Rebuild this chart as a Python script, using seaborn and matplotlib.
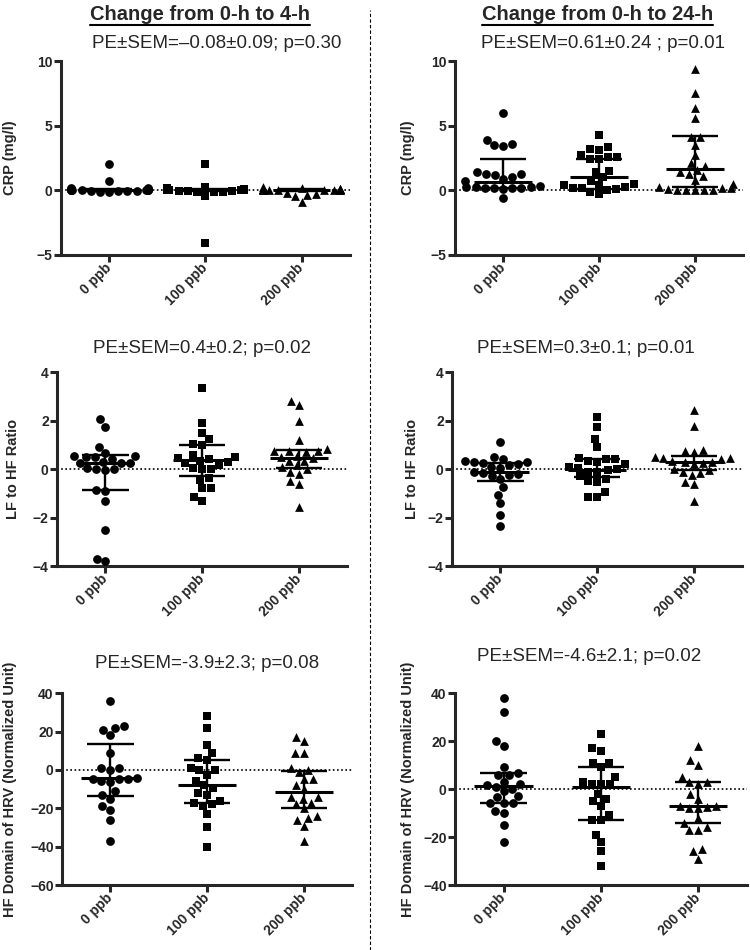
import matplotlib
matplotlib.use('Agg')
import matplotlib.pyplot as plt
import numpy as np
import pandas as pd
import seaborn as sns
from matplotlib.lines import Line2D

groups = ['0 ppb', '100 ppb', '200 ppb']
markers = ['o', 's', '^']

# CRP (mg/l), change 0-h to 4-h
crp_4h_0 = [2.05, 0.75, 0.15, 0.1, 0.1, 0.05, 0.05, 0.0, 0.0, 0.0, 0.0, -0.05,
            -0.05, -0.05, -0.1, -0.1, 0.0, 0.05, 0.2, 0.1, -0.02, 0.02]
crp_4h_100 = [2.05, -4.05, -0.4, 0.3, 0.15, 0.1, 0.1, 0.05, 0.05, 0.0, 0.0,
              0.0, 0.0, -0.05, -0.05, -0.1, -0.1, -0.15, 0.0, 0.05, 0.02, -0.02]
crp_4h_200 = [0.25, 0.2, 0.1, 0.1, 0.1, 0.1, 0.1, 0.05, 0.05, 0.0, 0.0, 0.05,
              -0.2, -0.3, -0.35, -0.4, -0.9, 0.1, 0.05, 0.0, 0.1, 0.05]
crp_4h_med = [0.02, 0.0, 0.05]
crp_4h_q1 = [-0.02, -0.05, -0.05]
crp_4h_q3 = [0.1, 0.1, 0.1]

# CRP (mg/l), change 0-h to 24-h
crp_24h_0 = [6.0, 3.9, 3.6, 3.5, 3.4, 1.45, 1.3, 1.25, 1.2, 1.05, 0.9, 0.7,
             0.35, 0.3, 0.25, 0.2, 0.2, 0.15, 0.1, 0.15, 0.25, -0.6]
crp_24h_100 = [4.25, 3.35, 3.2, 3.15, 2.7, 2.6, 2.45, 2.4, 2.6, 1.5, 1.4, 1.0,
               0.7, 0.5, 0.4, 0.3, 0.2, 0.1, 0.0, -0.1, -0.3, 0.4, 0.2]
crp_24h_200 = [9.4, 7.5, 6.4, 5.6, 4.1, 4.1, 3.5, 2.7, 2.1, 1.9, 1.6, 1.4, 1.3,
               1.1, 0.8, 0.5, 0.3, 0.2, 0.1, 0.0, 0.0, 0.0, 0.0, 0.0, 0.2]
crp_24h_med = [0.68, 1.0, 1.64]
crp_24h_q1 = [0.2, 0.13, 0.3]
crp_24h_q3 = [2.4, 2.4, 4.2]

# LF to HF ratio, change 0-h to 4-h
lf_4h_0 = [2.05, 1.75, 0.9, 0.65, 0.55, 0.55, 0.5, 0.5, 0.4, 0.3, 0.25, 0.25,
           0.25, 0.05, 0.0, 0.0, -0.05, -0.85, -0.9, -1.3, -2.5, -3.7, -3.8]
lf_4h_100 = [3.35, 1.9, 1.5, 1.25, 1.05, 1.0, 0.6, 0.5, 0.45, 0.4, 0.35, 0.3,
             0.25, 0.15, 0.05, 0.0, 0.0, -0.35, -0.45, -0.8, -0.8, -1.15, -1.3]
lf_4h_200 = [2.8, 2.65, 2.0, 1.2, 0.85, 0.75, 0.75, 0.75, 0.7, 0.55, 0.5, 0.45,
             0.35, 0.35, 0.15, 0.1, 0.0, -0.1, -0.2, -0.5, -0.6, -1.55]
lf_4h_med = [0.27, 0.37, 0.46]
lf_4h_q1 = [-0.86, -0.28, 0.05]
lf_4h_q3 = [0.57, 1.0, 0.8]

# LF to HF ratio, change 0-h to 24-h
lf_24h_0 = [1.1, 0.5, 0.4, 0.35, 0.3, 0.3, 0.25, 0.2, 0.15, 0.1, 0.05, -0.1,
            -0.15, -0.2, -0.25, -0.3, -0.4, -0.75, -1.05, -1.4, -1.9, -2.35]
lf_24h_100 = [2.15, 1.75, 1.25, 0.9, 0.45, 0.4, 0.4, 0.35, 0.3, 0.2, 0.1, 0.05,
              0.0, -0.05, -0.1, -0.1, -0.3, -0.4, -0.5, -0.55, -0.95, -1.15, -1.15]
lf_24h_200 = [2.45, 1.8, 0.8, 0.75, 0.7, 0.5, 0.45, 0.45, 0.4, 0.35, 0.3, 0.3,
              0.25, 0.2, 0.0, -0.05, -0.1, -0.15, -0.25, -0.55, -0.6, -1.3]
lf_24h_med = [-0.1, -0.05, 0.3]
lf_24h_q1 = [-0.5, -0.33, -0.05]
lf_24h_q3 = [0.25, 0.41, 0.55]

# HF domain of HRV (normalized unit), change 0-h to 4-h
hf_4h_0 = [36, 23, 22, 21, 18, 9, 1, 1, 0, -4, -4.5, -5, -5, -6, -6.5, -11,
           -13, -15, -19, -21, -26, -37]
hf_4h_100 = [28, 22, 13, 9, 6, 5, 1, 0, 0, -2.5, -6, -8, -9.5, -12, -13, -16,
             -17, -18, -19, -23, -30, -40]
hf_4h_200 = [17, 15, 9, 9, 1, 0, -1, -4.5, -5, -8, -10, -14, -14, -15, -17,
             -18, -20, -24, -25, -26, -29, -37]
hf_4h_med = [-4, -8, -11.5]
hf_4h_q1 = [-13.7, -17, -19.7]
hf_4h_q3 = [13.5, 5, -0.5]

# HF domain of HRV (normalized unit), change 0-h to 24-h
hf_24h_0 = [38, 32, 20, 18, 9, 6.5, 6, 6, 3, 2, 1.5, 1, 0, -1, -3, -3.5, -6,
            -6, -6, -9, -10, -15, -22]
hf_24h_100 = [23, 17, 16, 11, 11, 9, 5, 3, 2, 2, 2, -2, -4, -5, -7, -11, -13,
              -13, -19, -22, -26, -32]
hf_24h_200 = [18, 12, 10, 5, 3, 3, 2, -2, -4, -7, -7, -8, -8, -7.5, -12, -14,
              -16, -17, -17, -25, -26, -29]
hf_24h_med = [1.1, 1, -7]
hf_24h_q1 = [-6, -13, -14]
hf_24h_q3 = [6.5, 9, 2.9]

notes = ['PE\u00b1SEM=\u20130.08\u00b10.09; p=0.30', 'PE\u00b1SEM=0.61\u00b10.24 ; p=0.01',
         'PE\u00b1SEM=0.4\u00b10.2; p=0.02', 'PE\u00b1SEM=0.3\u00b10.1; p=0.01',
         'PE\u00b1SEM=-3.9\u00b12.3; p=0.08', 'PE\u00b1SEM=-4.6\u00b12.1; p=0.02']
ylabels = ['CRP (mg/l)', 'LF to HF Ratio', 'HF Domain of HRV (Normalized Unit)']

sns.set_style('ticks')
plt.rcParams['font.family'] = ['Liberation Sans', 'DejaVu Sans']
plt.rcParams['font.weight'] = 'bold'


def draw_panel(ax, series, med, q1, q3, ylim, yticks, ylabel, note, note_xy, label_x):
    df = pd.DataFrame({'group': np.repeat(groups, [len(s) for s in series]),
                       'value': np.concatenate(series)})
    ax.axhline(0, color='black', ls=(0, (1, 1.5)), lw=1.2, zorder=1)
    for g, m in zip(groups, markers):
        sns.swarmplot(data=df[df.group == g], x='group', y='value', order=groups,
                      marker=m, color='black', size=6.3, ax=ax, zorder=3,
                      warn_thresh=1)
    pos = np.arange(len(groups))
    # median with interquartile range
    ax.hlines(med, pos - 0.3, pos + 0.3, color='black', lw=2.2, zorder=4)
    ax.hlines(q1, pos - 0.24, pos + 0.24, color='black', lw=1.7, zorder=4)
    ax.hlines(q3, pos - 0.24, pos + 0.24, color='black', lw=1.7, zorder=4)
    ax.vlines(pos, q1, q3, color='black', lw=1.7, zorder=4)

    ax.set_xlim(-0.5, 2.5)
    ax.set_ylim(*ylim)
    ax.set_yticks(yticks)
    ax.set_xlabel('')
    ax.set_ylabel(ylabel, fontsize=10.5, fontweight='bold')
    ax.yaxis.set_label_coords(label_x, 0.5)
    sns.despine(ax=ax)
    for side in ['left', 'bottom']:
        ax.spines[side].set_linewidth(2.2)
    ax.tick_params(width=2.2, length=5, labelsize=10, pad=1)
    plt.setp(ax.get_yticklabels(), fontweight='bold')
    plt.setp(ax.get_xticklabels(), fontweight='bold', rotation=45, ha='right',
             va='center', rotation_mode='anchor', fontsize=10)
    ax.tick_params(axis='x', pad=3)
    ax.text(note_xy[0], note_xy[1], note, transform=ax.transAxes, ha='center',
            va='center', fontsize=13.5, fontweight='normal')


fig = plt.figure(figsize=(7.5, 9.5), dpi=100)

rects = [[0.0813, 0.7316, 0.385, 0.204], [0.6067, 0.7316, 0.384, 0.204],
         [0.076, 0.4042, 0.387, 0.204], [0.6027, 0.4042, 0.387, 0.204],
         [0.0827, 0.0684, 0.387, 0.202], [0.6067, 0.0684, 0.389, 0.202]]
note_pos = [(0.54, 1.093), (0.514, 1.093), (0.5, 1.124), (0.46, 1.124),
            (0.5, 1.156), (0.46, 1.19)]
label_pos = [-0.152, -0.139, -0.128, -0.114, -0.155, -0.137]

panels = [
    ([crp_4h_0, crp_4h_100, crp_4h_200], crp_4h_med, crp_4h_q1, crp_4h_q3, (-5, 10), [-5, 0, 5, 10], ylabels[0]),
    ([crp_24h_0, crp_24h_100, crp_24h_200], crp_24h_med, crp_24h_q1, crp_24h_q3, (-5, 10), [-5, 0, 5, 10], ylabels[0]),
    ([lf_4h_0, lf_4h_100, lf_4h_200], lf_4h_med, lf_4h_q1, lf_4h_q3, (-4, 4), [-4, -2, 0, 2, 4], ylabels[1]),
    ([lf_24h_0, lf_24h_100, lf_24h_200], lf_24h_med, lf_24h_q1, lf_24h_q3, (-4, 4), [-4, -2, 0, 2, 4], ylabels[1]),
    ([hf_4h_0, hf_4h_100, hf_4h_200], hf_4h_med, hf_4h_q1, hf_4h_q3, (-60, 40), [-60, -40, -20, 0, 20, 40], ylabels[2]),
    ([hf_24h_0, hf_24h_100, hf_24h_200], hf_24h_med, hf_24h_q1, hf_24h_q3, (-40, 40), [-40, -20, 0, 20, 40], ylabels[2]),
]

for i, (series, med, q1, q3, ylim, yticks, ylabel) in enumerate(panels):
    ax = fig.add_axes(rects[i])
    draw_panel(ax, series, med, q1, q3, ylim, yticks, ylabel, notes[i],
               note_pos[i], label_pos[i])

# column headers (bold, underlined)
headers = []
for x, txt in [(0.267, 'Change from 0-h to 4-h'), (0.797, 'Change from 0-h to 24-h')]:
    headers.append(fig.text(x, 0.985, txt, ha='center', va='center',
                            fontsize=14.5, fontweight='bold'))
fig.canvas.draw()
inv = fig.transFigure.inverted()
for t in headers:
    bb = t.get_window_extent()
    (x0, y0), (x1, _) = inv.transform([(bb.x0, bb.y0), (bb.x1, bb.y1)])
    fig.add_artist(Line2D([x0, x1], [y0 - 0.001, y0 - 0.001], color='black', lw=1.5))

# dashed separator between the two columns
fig.add_artist(Line2D([0.4933, 0.4933], [0.0, 0.99], color='black', lw=0.8,
                      ls=(0, (3, 2))))

fig.savefig('out.png', dpi=100)
